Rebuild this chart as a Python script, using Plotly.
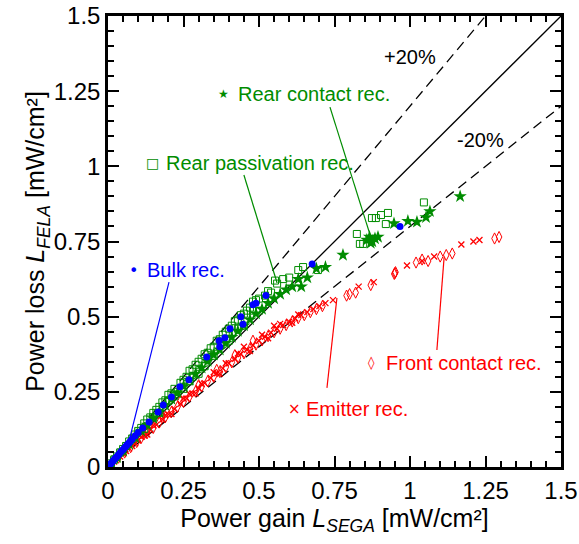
import plotly.graph_objects as go

# ---------------- data ----------------
bulk_x = [0.004, 0.008, 0.012, 0.016, 0.02, 0.025, 0.03, 0.035, 0.04, 0.045, 0.05, 0.055, 0.06, 0.065,
          0.07, 0.075, 0.08, 0.09, 0.10, 0.115, 0.136, 0.166, 0.183, 0.21, 0.238, 0.268, 0.327, 0.368,
          0.37, 0.387, 0.404, 0.447, 0.44, 0.48, 0.49, 0.523, 0.676, 0.967]
bulk_y = [0.005, 0.01, 0.014, 0.019, 0.024, 0.03, 0.035, 0.041, 0.047, 0.053, 0.058, 0.064, 0.07, 0.076,
          0.081, 0.087, 0.093, 0.104, 0.115, 0.13, 0.15, 0.183, 0.206, 0.233, 0.267, 0.29, 0.366, 0.42,
          0.40, 0.43, 0.46, 0.475, 0.50, 0.54, 0.545, 0.57, 0.675, 0.80]

pass_x = [0.01, 0.02, 0.03, 0.04, 0.05, 0.06, 0.07, 0.08, 0.09, 0.10, 0.11, 0.12, 0.13, 0.14, 0.15, 0.16,
          0.17, 0.18, 0.19, 0.20, 0.21, 0.22, 0.24, 0.25, 0.26, 0.27, 0.28, 0.29, 0.30, 0.31, 0.32, 0.33,
          0.34, 0.35, 0.36, 0.37, 0.38, 0.39, 0.40, 0.41, 0.42, 0.43, 0.44, 0.45, 0.46, 0.47, 0.48, 0.49,
          0.50, 0.52, 0.53, 0.553, 0.56, 0.58, 0.60, 0.63, 0.646, 0.695, 0.25, 0.30, 0.35, 0.40, 0.45, 0.50,
          0.15, 0.20, 0.23, 0.28, 0.33, 0.38, 0.43, 0.48, 0.54, 0.12, 0.17, 0.22, 0.27, 0.32,
          0.824, 0.834, 0.845, 0.874, 0.887, 0.904, 0.927, 0.92, 1.046]
pass_y = [0.012, 0.024, 0.035, 0.048, 0.06, 0.07, 0.085, 0.095, 0.108, 0.12, 0.13, 0.145, 0.158, 0.165,
          0.18, 0.19, 0.2, 0.215, 0.222, 0.24, 0.245, 0.26, 0.28, 0.29, 0.30, 0.32, 0.325, 0.34, 0.35, 0.36,
          0.375, 0.38, 0.395, 0.40, 0.42, 0.425, 0.44, 0.45, 0.46, 0.47, 0.485, 0.49, 0.505, 0.51, 0.52,
          0.53, 0.55, 0.555, 0.56, 0.57, 0.585, 0.62, 0.61, 0.625, 0.63, 0.655, 0.665, 0.655, 0.26, 0.31,
          0.37, 0.42, 0.47, 0.52, 0.165, 0.22, 0.25, 0.30, 0.36, 0.41, 0.46, 0.52, 0.58,
          0.127, 0.18, 0.235, 0.285, 0.335,
          0.775, 0.742, 0.742, 0.828, 0.828, 0.838, 0.845, 0.808, 0.88]

cont_x = [0.01, 0.03, 0.05, 0.07, 0.09, 0.11, 0.13, 0.15, 0.17, 0.19, 0.21, 0.23, 0.25, 0.27, 0.29, 0.31,
          0.33, 0.35, 0.37, 0.39, 0.41, 0.43, 0.45, 0.47, 0.49, 0.51, 0.53, 0.55, 0.57, 0.59, 0.61, 0.63,
          0.64, 0.66, 0.69, 0.72, 0.778, 0.857, 0.866, 0.87, 0.875, 0.884, 0.894, 0.947, 0.993, 1.023,
          1.053, 1.066, 1.166]
cont_y = [0.011, 0.032, 0.054, 0.076, 0.098, 0.12, 0.14, 0.162, 0.183, 0.205, 0.226, 0.247, 0.268, 0.29,
          0.31, 0.33, 0.352, 0.373, 0.39, 0.412, 0.432, 0.452, 0.47, 0.49, 0.51, 0.525, 0.545, 0.56, 0.575,
          0.59, 0.60, 0.625, 0.60, 0.63, 0.66, 0.665, 0.705, 0.755, 0.765, 0.745, 0.75, 0.76, 0.765, 0.81,
          0.818, 0.815, 0.83, 0.85, 0.90]

emit_x = [0.01, 0.02, 0.03, 0.04, 0.05, 0.06, 0.07, 0.08, 0.09, 0.10, 0.12, 0.14, 0.16, 0.18, 0.20, 0.22,
          0.24, 0.26, 0.28, 0.30, 0.32, 0.34, 0.36, 0.38, 0.40, 0.42, 0.44, 0.46, 0.48, 0.50, 0.52, 0.54,
          0.56, 0.58, 0.60, 0.62, 0.64, 0.66, 0.68, 0.70, 0.72, 0.745, 0.15, 0.25, 0.35, 0.45, 0.55,
          0.11, 0.19, 0.27, 0.31, 0.39, 0.43, 0.51, 0.57, 0.63,
          0.13, 0.21, 0.29, 0.37, 0.47, 0.53, 0.61,
          0.83, 0.88, 0.99, 1.04, 1.08, 1.17, 1.21, 1.23]
emit_y = [0.009, 0.018, 0.027, 0.035, 0.044, 0.053, 0.062, 0.07, 0.079, 0.088, 0.105, 0.123, 0.14, 0.158,
          0.175, 0.193, 0.21, 0.228, 0.245, 0.262, 0.279, 0.296, 0.312, 0.328, 0.345, 0.36, 0.376, 0.39,
          0.405, 0.42, 0.433, 0.447, 0.46, 0.472, 0.483, 0.494, 0.505, 0.515, 0.525, 0.535, 0.545, 0.555,
          0.138, 0.228, 0.315, 0.40, 0.47, 0.1, 0.172, 0.243, 0.276, 0.345, 0.378, 0.44, 0.476, 0.507,
          0.108, 0.176, 0.245, 0.31, 0.386, 0.428, 0.48,
          0.60, 0.615, 0.67, 0.685, 0.70, 0.74, 0.75, 0.755]

front_x = [0.015, 0.035, 0.055, 0.075, 0.095, 0.11, 0.13, 0.15, 0.17, 0.19, 0.21, 0.23, 0.25, 0.27, 0.29,
           0.31, 0.33, 0.35, 0.37, 0.39, 0.41, 0.43, 0.45, 0.47, 0.49, 0.51, 0.53, 0.55, 0.57, 0.59, 0.61,
           0.63, 0.65, 0.67, 0.69, 0.71, 0.12, 0.18, 0.24, 0.30, 0.36, 0.42, 0.48,
           0.79, 0.80, 0.82, 0.87, 0.948, 0.95, 0.952, 1.02, 1.04, 1.06,
           1.10, 1.12, 1.14, 1.28, 1.295]
front_y = [0.013, 0.031, 0.048, 0.066, 0.083, 0.097, 0.113, 0.13, 0.148, 0.166, 0.183, 0.20, 0.217, 0.234,
           0.251, 0.268, 0.285, 0.30, 0.316, 0.332, 0.348, 0.363, 0.378, 0.393, 0.407, 0.421, 0.435, 0.448,
           0.46, 0.472, 0.484, 0.495, 0.505, 0.515, 0.525, 0.535, 0.11, 0.165, 0.22, 0.272, 0.323, 0.372,
           0.42, 0.57, 0.575, 0.58, 0.605, 0.642, 0.645,
           0.648, 0.68, 0.69, 0.685, 0.70, 0.705, 0.71, 0.76, 0.765]

ref_slopes = [1.0, 1.2, 0.8]
ref_dash = ["solid", "10px,6px", "10px,6px"]
axis_max = 1.5
tick_vals = [0, 0.25, 0.5, 0.75, 1, 1.25, 1.5]
tick_text = ["0", "0.25", "0.5", "0.75", "1", "1.25", "1.5"]

GREEN = "#008c00"
BLUE = "#0000ff"
RED = "#ff0000"
FONT = "Liberation Sans, Arial, sans-serif"

fig = go.Figure()

for s, d in zip(ref_slopes, ref_dash):
    fig.add_trace(go.Scatter(x=[0, axis_max], y=[0, axis_max * s], mode="lines",
                             line=dict(color="black", width=1.3, dash=d), showlegend=False,
                             hoverinfo="skip"))

fig.add_trace(go.Scatter(x=emit_x, y=emit_y, mode="markers",
                         marker=dict(symbol="x-thin-open", size=6, color=RED,
                                     line=dict(color=RED, width=1.3))))
fig.add_trace(go.Scatter(x=front_x, y=front_y, mode="markers",
                         marker=dict(symbol="diamond-tall-open", size=8, color=RED,
                                     line=dict(color=RED, width=1))))
fig.add_trace(go.Scatter(x=pass_x, y=pass_y, mode="markers",
                         marker=dict(symbol="square-open", size=7, color=GREEN,
                                     line=dict(color=GREEN, width=1))))
fig.add_trace(go.Scatter(x=cont_x, y=cont_y, mode="markers",
                         marker=dict(symbol="star", size=10, color=GREEN, line=dict(width=0))))
fig.add_trace(go.Scatter(x=bulk_x, y=bulk_y, mode="markers",
                         marker=dict(symbol="circle", size=7, color=BLUE, line=dict(width=0))))

# leader lines
leaders = [
    (0.735, 1.197, 0.871, 0.762, GREEN),
    (0.450, 0.971, 0.560, 0.612, GREEN),
    (0.202, 0.615, 0.073, 0.10, BLUE),
    (1.089, 0.389, 1.113, 0.698, RED),
    (0.725, 0.263, 0.758, 0.562, RED),
]
for x0, y0, x1, y1, c in leaders:
    fig.add_shape(type="line", x0=x0, y0=y0, x1=x1, y1=y1, xref="x", yref="y",
                  line=dict(color=c, width=1.2))

# label symbol (x, y, char, size) and label text (x, y, text)
labels = [
    (0.384, 1.241, "★", 12, 0.425, "Rear contact rec.", GREEN),
    (0.146, 1.011, "□", 14, 0.187, "Rear passivation rec.", GREEN),
    (0.086, 0.655, "•", 16, 0.121, "Bulk rec.", BLUE),
    (0.874, 0.346, "◊", 13, 0.915, "Front contact rec.", RED),
    (0.619, 0.193, "×", 15, 0.650, "Emitter rec.", RED),
]
for sx, y, ch, cs, tx, t, c in labels:
    fig.add_annotation(x=sx, y=y, text=ch, showarrow=False, xanchor="center", yanchor="middle",
                       font=dict(family="DejaVu Sans", size=cs, color=c))
    fig.add_annotation(x=tx, y=y, text=t, showarrow=False, xanchor="left", yanchor="middle",
                       font=dict(family=FONT, size=20, color=c))

fig.add_annotation(x=1.0, y=1.364, text="+20%", showarrow=False,
                   font=dict(family=FONT, size=20, color="black"))
fig.add_annotation(x=1.232, y=1.088, text="-20%", showarrow=False,
                   font=dict(family=FONT, size=20, color="black"))

axis_common = dict(range=[0, axis_max], tickvals=tick_vals, ticktext=tick_text,
                   ticks="inside", ticklen=11, tickwidth=2.2, tickcolor="black",
                   showline=True, linewidth=2.5, linecolor="black", mirror="allticks",
                   showgrid=False, zeroline=False, automargin=False,
                   tickfont=dict(family=FONT, size=24, color="black"),
                   minor=dict(ticks="inside", ticklen=6, tickwidth=1.8, tickcolor="black", dtick=0.05))

fig.update_layout(
    width=579, height=544,
    margin=dict(l=108, r=18, t=16, b=77),
    paper_bgcolor="white", plot_bgcolor="white",
    showlegend=False,
    xaxis=dict(**axis_common,
               title=dict(text="Power gain <i>L<sub>SEGA</sub></i> [mW/cm²]",
                          font=dict(family=FONT, size=25, color="black"), standoff=4)),
    yaxis=dict(**axis_common,
               title=dict(text="Power loss <i>L<sub>FELA</sub></i> [mW/cm²]",
                          font=dict(family=FONT, size=25, color="black"), standoff=2)),
)

fig.write_html("out.html")
